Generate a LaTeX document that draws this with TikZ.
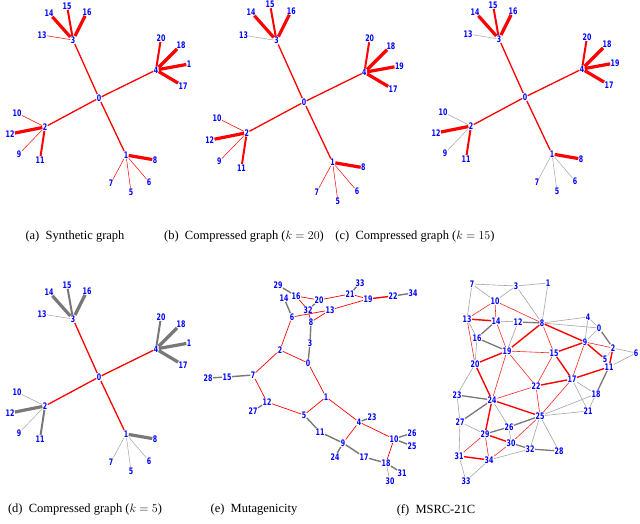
\documentclass[tikz,border=0pt]{standalone}
\usepackage{fontspec}
\setmainfont{Liberation Serif}
\newfontfamily\lblfont[FakeStretch=0.7]{DejaVu Sans}
\usepackage{xcolor}

\definecolor{edgegray}{RGB}{120,120,120}
\definecolor{lightedge}{RGB}{165,165,165}

\tikzset{
  lbl/.style={text=blue, font=\lblfont\bfseries\fontsize{9}{9}\selectfont, fill=white, inner sep=0.3pt},
  capt/.style={font=\fontsize{12.5}{14}\selectfont},
  hubedge/.style={red, line width=1.3pt},
  thinedge/.style={line width=0.5pt},
  midedge/.style={line width=2pt},
  thickedge/.style={line width=3.2pt},
  mred/.style={red, line width=0.7pt},
  mdbl/.style={red, line width=1.4pt},
  mgray/.style={edgegray, line width=1.4pt},
  mlight/.style={lightedge, line width=0.6pt},
  fred/.style={red!85, line width=0.6pt},
  fredb/.style={red, line width=1.4pt},
  fgray/.style={lightedge, line width=0.6pt},
  fgrayb/.style={edgegray, line width=1.3pt}
}

% synthetic star graph, node 0 at the origin
% #1 colour of 3-13, #2 colour of the other thin leaves, #3 colour of the heavy leaves, #4 text of node 19
\newcommand{\synthgraph}[4]{
  \foreach \n/\x/\y in {0/0/0, 3/-26/-58, 13/-57/-63, 14/-50/-85, 15/-32/-92, 16/-12/-86,
      4/57/-28, 20/62/-60, 18/82/-53, 17/84/-12,
      2/-54/29, 10/-82/15, 12/-89/36, 9/-80/56, 11/-59/62,
      1/27/57, 8/56/62, 7/12/85, 5/32/94, 6/50/84}
    \node[lbl] (n\n) at (\x,\y) {\n};
  \node[lbl] (n19) at (90,-34) {#4};

  \foreach \a/\b in {3/14, 3/16, 4/18, 4/19, 4/17, 2/12, 1/8}
    \draw[#3, thickedge] (n\a) -- (n\b);
  \foreach \a/\b in {3/15, 4/20, 2/11}
    \draw[#3, midedge] (n\a) -- (n\b);
  \foreach \a/\b in {2/10, 2/9, 1/7, 1/5, 1/6}
    \draw[#2, thinedge] (n\a) -- (n\b);
  \draw[#1, thinedge] (n3) -- (n13);
  \foreach \b in {1,2,3,4}
    \draw[hubedge] (n0) -- (n\b);
}

\begin{document}
\begin{tikzpicture}[x=1pt, y=-1pt]
  \useasboundingbox (0,0) rectangle (640,524);

  % top row
  \begin{scope}[shift={(99,98)}, name prefix=a]
    \synthgraph{red}{red}{red}{1}
  \end{scope}
  \begin{scope}[shift={(304,102)}, scale=1.06, name prefix=b]
    \synthgraph{lightedge}{red}{red}{19}
  \end{scope}
  \begin{scope}[shift={(525,97)}, name prefix=c]
    \synthgraph{lightedge}{lightedge}{red}{19}
  \end{scope}

  \node[capt] (capa) at (75,237) {(a)~~Synthetic graph};
  \node[capt] (capb) at (244,237) {(b)~~Compressed graph ($k=20$)};
  \node[capt] (capc) at (415,237) {(c)~~Compressed graph ($k=15$)};

  % bottom row
  \begin{scope}[shift={(99,377)}, name prefix=d]
    \synthgraph{lightedge}{lightedge}{edgegray}{1}
  \end{scope}

  % mutagenicity
  \foreach \n/\x/\y in {29/278/285, 14/284/298, 16/296/296, 20/319/300, 32/308/310, 13/330/310,
      21/350/294, 33/360/283, 19/368/299, 22/393/296, 34/413/293, 6/292/317, 8/311/322,
      3/310/343, 2/280/350, 0/308/363, 7/253/375, 15/227/377, 28/208/378, 12/267/402,
      27/253/411, 1/326/397, 5/304/415, 11/320/432, 4/359/422, 23/372/417, 9/343/443,
      24/335/457, 17/364/457, 10/394/439, 26/412/433, 25/412/446, 18/386/463, 31/402/473, 30/390/481}
    \node[lbl] (m\n) at (\x,\y) {\n};
  \foreach \a/\b in {29/16, 14/6, 20/32, 21/33, 22/34, 8/3, 3/0, 7/15, 15/28, 12/27, 4/23,
      5/11, 11/9, 9/24, 9/17, 17/18, 10/26, 10/25, 18/31}
    \draw[mgray] (m\a) -- (m\b);
  \draw[mlight] (m18) -- (m30);
  \foreach \a/\b in {16/20, 16/32, 32/8, 20/21, 21/19, 19/13, 13/6, 13/8, 6/2, 2/0, 2/7,
      7/12, 12/5, 5/1, 0/1, 1/4, 4/9, 4/10, 10/18}
    \draw[mred] (m\a) -- (m\b);
  \draw[mdbl] (m19) -- (m22);

  % msrc-21c
  \foreach \n/\x/\y in {7/472/284, 3/516/286, 1/548/283, 10/495/301, 13/467/319, 14/496/321,
      12/518/322, 8/542/323, 4/588/317, 0/599/328, 16/477/338, 9/585/342, 2/613/348,
      6/636/353, 19/507/351, 15/554/353, 5/605/359, 11/609/367, 20/475/364, 17/572/379,
      22/536/386, 23/457/395, 18/596/394, 24/492/400, 21/588/411, 25/540/416, 27/460/422,
      26/509/427, 29/485/434, 30/511/443, 32/530/449, 28/559/451, 31/459/456, 34/489/460, 33/466/481}
    \node[lbl] (s\n) at (\x,\y) {\n};
  \foreach \a/\b in {7/3, 3/1, 7/10, 3/10, 7/13, 3/8, 1/8, 8/4, 8/0, 4/9, 4/0, 0/9, 2/6, 2/5,
      6/11, 14/12, 12/19, 16/20, 13/16, 17/18, 17/21, 18/21, 18/25, 21/25, 20/23, 23/27,
      24/26, 26/30, 25/28, 25/32, 27/29, 27/31, 31/33, 34/33, 34/32}
    \draw[fgray] (s\a) -- (s\b);
  \foreach \a/\b in {12/8, 14/16, 16/19, 0/2, 11/18, 23/24, 24/27, 29/26, 26/25, 30/32, 32/28}
    \draw[fgrayb] (s\a) -- (s\b);
  \foreach \a/\b in {10/13, 10/8, 10/14, 14/19, 13/20, 19/15, 19/22, 19/24, 8/15, 9/2, 9/17,
      15/22, 17/25, 22/24, 22/25, 30/25, 34/30, 29/31, 29/34}
    \draw[fred] (s\a) -- (s\b);
  \foreach \a/\b in {13/14, 19/8, 19/20, 8/9, 9/5, 9/15, 2/11, 11/17, 15/17, 17/22, 20/24,
      24/25, 29/30, 31/34, 24/29}
    \draw[fredb] (s\a) -- (s\b);

  \node[capt] (capd) at (85,510) {(d)~~Compressed graph ($k=5$)};
  \node[capt] (cape) at (254,510) {(e)~~Mutagenicity};
  \node[capt] (capf) at (436,510) {(f)~~MSRC-21C};
\end{tikzpicture}
\end{document}
